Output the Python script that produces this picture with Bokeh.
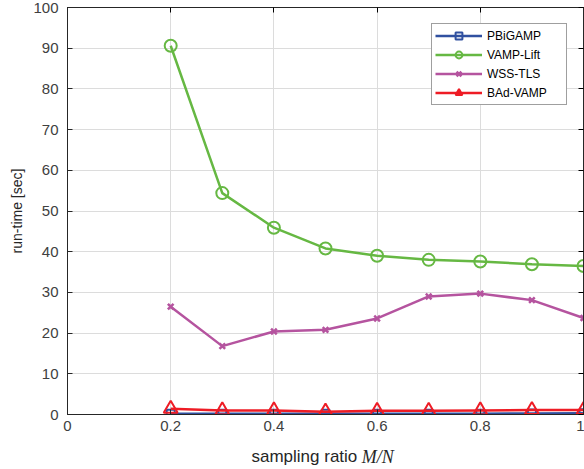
from bokeh.plotting import figure
from bokeh.layouts import column
from bokeh.models import Range1d, FixedTicker, LinearAxis, Legend, LegendItem
from bokeh.core.properties import value
from bokeh.embed import file_html
from bokeh.resources import INLINE

ratio = [0.2, 0.3, 0.4, 0.5, 0.6, 0.7, 0.8, 0.9, 1.0]
pbigamp = [0.2, 0.2, 0.2, 0.2, 0.2, 0.2, 0.2, 0.25, 0.3]
vamp_lift = [90.6, 54.4, 45.9, 40.8, 39.0, 38.0, 37.6, 36.9, 36.5]
wss_tls = [26.5, 16.8, 20.4, 20.8, 23.6, 29.0, 29.7, 28.1, 23.7]
bad_vamp = [1.4, 1.0, 1.0, 0.7, 0.9, 0.9, 1.0, 1.1, 1.1]

x_ticks = [0, 0.2, 0.4, 0.6, 0.8, 1]
y_ticks = [0, 10, 20, 30, 40, 50, 60, 70, 80, 90, 100]

x_label_text = "sampling ratio"
x_label_math = "M/N"

FONT = "Liberation Sans"

p = figure(width=584, height=440, output_backend="svg", toolbar_location=None,
           x_range=Range1d(0, 1), y_range=Range1d(0, 100),
           min_border_left=67, min_border_right=1, min_border_top=7, min_border_bottom=26)
p.background_fill_color = "white"
p.border_fill_color = "white"
p.outline_line_color = "#262626"
p.outline_line_width = 1

for ax in [p.xaxis[0], p.yaxis[0]]:
    ax.major_tick_in = 5
    ax.major_tick_out = 0
    ax.minor_tick_in = 0
    ax.minor_tick_out = 0
    ax.axis_line_color = "#262626"
    ax.major_tick_line_color = "#262626"
    ax.major_label_text_font = FONT
    ax.major_label_text_font_size = "15px"
    ax.major_label_text_color = "#404040"
    ax.axis_label_text_font = FONT
    ax.axis_label_text_font_style = "normal"
    ax.axis_label_text_color = "#262626"

p.xaxis[0].ticker = FixedTicker(ticks=x_ticks)
p.yaxis[0].ticker = FixedTicker(ticks=y_ticks)
p.xaxis[0].major_label_overrides = {0: "0", 1: "1"}
p.yaxis[0].axis_label = "run-time [sec]"
p.yaxis[0].axis_label_text_font_size = "14px"
p.xaxis[0].major_label_standoff = 6
p.yaxis[0].major_label_standoff = 9
p.yaxis[0].axis_label_standoff = 5

p.xgrid.ticker = FixedTicker(ticks=[0.2, 0.4, 0.6, 0.8])
p.ygrid.ticker = FixedTicker(ticks=y_ticks[1:-1])
p.grid.grid_line_color = "#dcdcdc"
p.grid.grid_line_width = 1

# MATLAB-like box ticks on top and right
top = LinearAxis(ticker=FixedTicker(ticks=x_ticks), major_label_text_color=None,
                 major_tick_in=5, major_tick_out=0, minor_tick_in=0, minor_tick_out=0,
                 axis_line_color="#262626", major_label_standoff=0)
right = LinearAxis(ticker=FixedTicker(ticks=y_ticks), major_label_text_color=None,
                   major_tick_in=5, major_tick_out=0, minor_tick_in=0, minor_tick_out=0,
                   axis_line_color="#262626", major_label_standoff=0)
p.add_layout(top, "above")
p.add_layout(right, "right")

blue = "#3050a0"
green = "#66b843"
magenta = "#b5549f"
red = "#ee1c25"

items = []
l1 = p.line(ratio, pbigamp, line_color=blue, line_width=2.5)
m1 = p.scatter(ratio, pbigamp, marker="square", size=8, line_color=blue, fill_color="white", fill_alpha=0, line_width=2)
items.append(LegendItem(label="PBiGAMP", renderers=[l1, m1]))
l2 = p.line(ratio, vamp_lift, line_color=green, line_width=2.5)
m2 = p.scatter(ratio, vamp_lift, marker="circle", size=12, line_color=green, fill_alpha=0, line_width=2)
items.append(LegendItem(label="VAMP-Lift", renderers=[l2, m2]))
l3 = p.line(ratio, wss_tls, line_color=magenta, line_width=2.5)
m3 = p.scatter(ratio, wss_tls, marker="x", size=8, line_color=magenta, line_width=2.5)
items.append(LegendItem(label="WSS-TLS", renderers=[l3, m3]))
l4 = p.line(ratio, bad_vamp, line_color=red, line_width=2.5)
m4 = p.scatter(ratio, bad_vamp, marker="triangle", size=14, line_color=red, fill_alpha=0, line_width=2)
items.append(LegendItem(label="BAd-VAMP", renderers=[l4, m4]))

legend = Legend(items=items, location="top_right", margin=16,
                label_text_font=FONT, label_text_font_size="12px", label_text_color="#000000",
                glyph_width=47, glyph_height=17, label_height=17, label_width=76, spacing=2,
                padding=3, label_standoff=5,
                border_line_color="#404040", border_line_width=1,
                background_fill_color="white", background_fill_alpha=1)
p.add_layout(legend, "center")

# x-axis label strip: "sampling ratio" + italic M/N (pixel layout strip)
lab = figure(width=584, height=29, output_backend="svg", toolbar_location=None,
             x_range=Range1d(0, 584), y_range=Range1d(0, 29),
             min_border=0, x_axis_type=None, y_axis_type=None)
lab.outline_line_color = None
lab.grid.visible = False
lab.background_fill_color = "white"
lab.border_fill_color = "white"
lab.text(x=[328], y=[13], text=[x_label_text], text_align="right", text_baseline="middle",
         text_font=value(FONT), text_font_size="17px", text_color="#262626")
lab.text(x=[333], y=[13], text=[x_label_math], text_align="left", text_baseline="middle",
         text_font=value("Liberation Serif"), text_font_style="italic",
         text_font_size="18px", text_color="#262626")

layout = column(p, lab, spacing=0)
open("out.html", "w").write(file_html(layout, INLINE))
